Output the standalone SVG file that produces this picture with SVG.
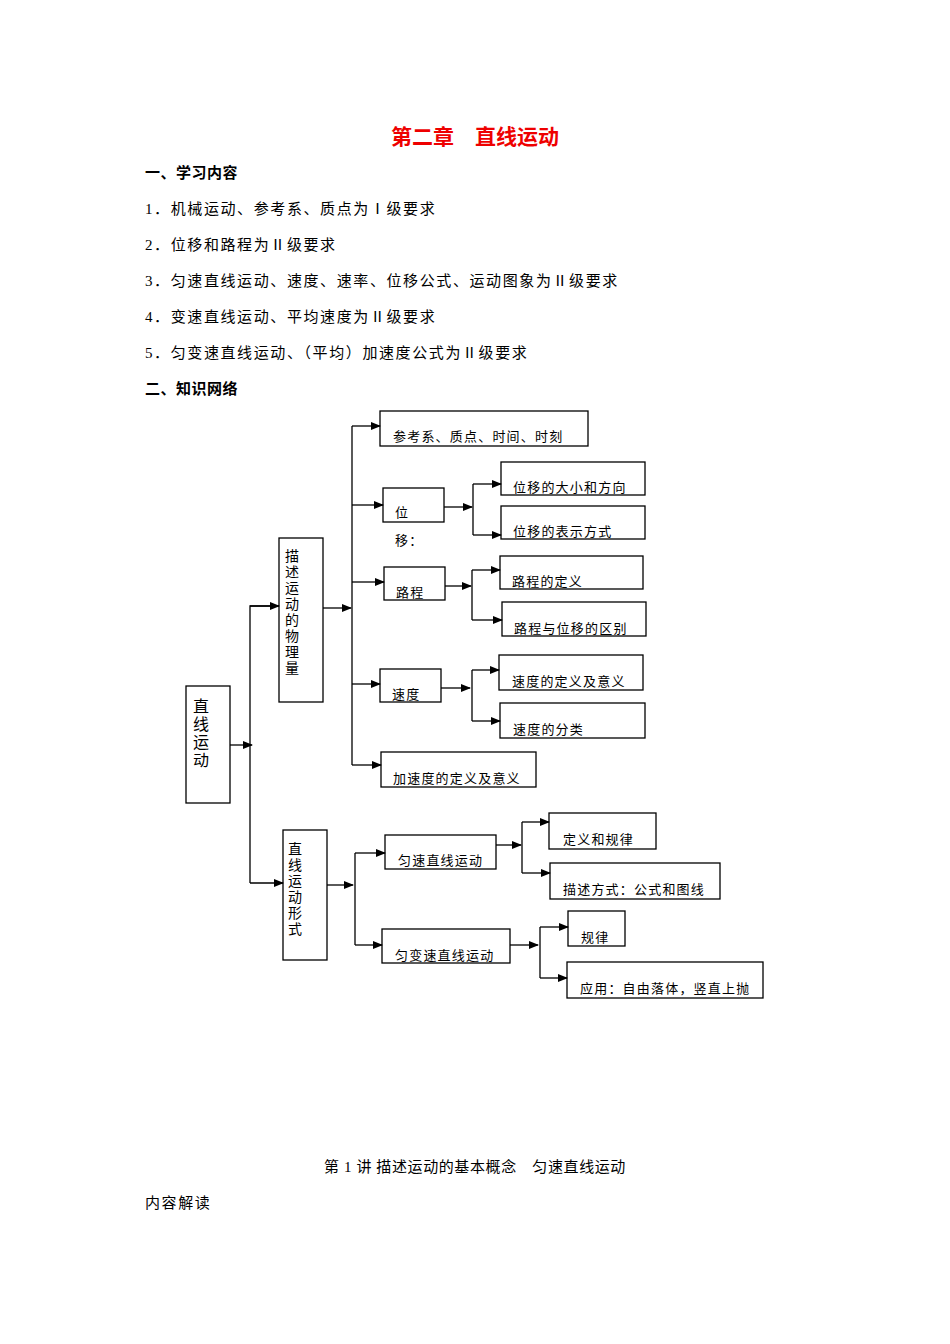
<svg xmlns="http://www.w3.org/2000/svg" width="950" height="1344" viewBox="0 0 950 1344">
<defs><marker id="a" markerWidth="10" markerHeight="8" refX="9" refY="4" orient="auto" markerUnits="userSpaceOnUse"><path d="M0,0L10,4L0,8z" fill="#000"/></marker></defs>
<style>
text{font-family:"Liberation Serif","Noto Sans CJK SC",serif;fill:#000}
.t{font-size:15px;letter-spacing:1.6px}.h{font-size:15px;font-weight:bold;letter-spacing:0.5px}.b{font-size:13px;letter-spacing:1.2px}.v{font-size:14px}
rect{fill:#fff;stroke:#000;stroke-width:1.3}
.c line,.c path{stroke:#000;stroke-width:1.3;fill:none}
</style>
<rect x="0" y="0" width="950" height="1344" style="stroke:none"/>
<text x="475" y="144" text-anchor="middle" style="font-size:21px;font-weight:bold;fill:#e00">第二章　直线运动</text>
<text class="h" x="145" y="178">一、学习内容</text>
<text class="t" x="145" y="214">1．机械运动、参考系、质点为Ⅰ级要求</text>
<text class="t" x="145" y="250">2．位移和路程为Ⅱ级要求</text>
<text class="t" x="145" y="286">3．匀速直线运动、速度、速率、位移公式、运动图象为Ⅱ级要求</text>
<text class="t" x="145" y="322">4．变速直线运动、平均速度为Ⅱ级要求</text>
<text class="t" x="145" y="358">5．匀变速直线运动、（平均）加速度公式为Ⅱ级要求</text>
<text class="h" x="145" y="394">二、知识网络</text>
<g id="n1"><rect x="186" y="686" width="44" height="117"/><text x="193" y="712" style="font-size:16px">直</text><text x="193" y="730" style="font-size:16px">线</text><text x="193" y="748" style="font-size:16px">运</text><text x="193" y="766" style="font-size:16px">动</text></g>
<g id="n2"><rect x="279" y="538" width="44" height="164"/><text class="v" x="285" y="561">描</text><text class="v" x="285" y="577">述</text><text class="v" x="285" y="593">运</text><text class="v" x="285" y="609">动</text><text class="v" x="285" y="625">的</text><text class="v" x="285" y="641">物</text><text class="v" x="285" y="657">理</text><text class="v" x="285" y="673">量</text></g>
<g id="n3"><rect x="380" y="411" width="208" height="35"/><text class="b" x="393" y="441">参考系、质点、时间、时刻</text></g>
<g id="n4"><rect x="383" y="488" width="61" height="34"/><text class="b" x="395" y="517">位</text><text class="b" x="395" y="545">移：</text></g>
<g id="n5"><rect x="501" y="462" width="144" height="33"/><text class="b" x="513" y="492">位移的大小和方向</text></g>
<g id="n6"><rect x="501" y="506" width="144" height="33"/><text class="b" x="513" y="536">位移的表示方式</text></g>
<g id="n7"><rect x="384" y="567" width="61" height="33"/><text class="b" x="396" y="597">路程</text></g>
<g id="n8"><rect x="500" y="556" width="143" height="33"/><text class="b" x="512" y="586">路程的定义</text></g>
<g id="n9"><rect x="502" y="602" width="144" height="34"/><text class="b" x="514" y="633">路程与位移的区别</text></g>
<g id="n10"><rect x="380" y="669" width="61" height="33"/><text class="b" x="392" y="699">速度</text></g>
<g id="n11"><rect x="499" y="655" width="144" height="35"/><text class="b" x="512" y="686">速度的定义及意义</text></g>
<g id="n12"><rect x="500" y="703" width="145" height="35"/><text class="b" x="513" y="734">速度的分类</text></g>
<g id="n13"><rect x="381" y="752" width="155" height="35"/><text class="b" x="393" y="783">加速度的定义及意义</text></g>
<g id="n14"><rect x="283" y="830" width="44" height="130"/><text class="v" x="288" y="854">直</text><text class="v" x="288" y="870">线</text><text class="v" x="288" y="886">运</text><text class="v" x="288" y="902">动</text><text class="v" x="288" y="918">形</text><text class="v" x="288" y="934">式</text></g>
<g id="n15"><rect x="385" y="835" width="111" height="34"/><text class="b" x="398" y="865">匀速直线运动</text></g>
<g id="n16"><rect x="549" y="813" width="107" height="36"/><text class="b" x="563" y="844">定义和规律</text></g>
<g id="n17"><rect x="550" y="863" width="170" height="36"/><text class="b" x="563" y="894">描述方式：公式和图线</text></g>
<g id="n18"><rect x="382" y="929" width="128" height="34"/><text class="b" x="395" y="960">匀变速直线运动</text></g>
<g id="n19"><rect x="568" y="911" width="57" height="35"/><text class="b" x="581" y="942">规律</text></g>
<g id="n20"><rect x="567" y="962" width="196" height="36"/><text class="b" x="580" y="993">应用：自由落体，竖直上抛</text></g>
<g class="c" id="connectors">
<line x1="230" y1="745" x2="252" y2="745" marker-end="url(#a)"/>
<path d="M279,606H250V883"/><line x1="250" y1="606" x2="279" y2="606" marker-end="url(#a)"/><line x1="250" y1="883" x2="283" y2="883" marker-end="url(#a)"/>
<line x1="323" y1="608" x2="351" y2="608" marker-end="url(#a)"/>
<path d="M352,426V765"/>
<line x1="352" y1="426" x2="380" y2="426" marker-end="url(#a)"/>
<line x1="352" y1="505" x2="383" y2="505" marker-end="url(#a)"/>
<line x1="352" y1="582" x2="384" y2="582" marker-end="url(#a)"/>
<line x1="352" y1="684" x2="380" y2="684" marker-end="url(#a)"/>
<line x1="352" y1="765" x2="381" y2="765" marker-end="url(#a)"/>
<line x1="444" y1="507" x2="472" y2="507" marker-end="url(#a)"/>
<path d="M473,484V535"/><line x1="473" y1="484" x2="501" y2="484" marker-end="url(#a)"/><line x1="473" y1="535" x2="501" y2="535" marker-end="url(#a)"/>
<line x1="445" y1="586" x2="471" y2="586" marker-end="url(#a)"/>
<path d="M472,570V620"/><line x1="472" y1="570" x2="500" y2="570" marker-end="url(#a)"/><line x1="472" y1="620" x2="502" y2="620" marker-end="url(#a)"/>
<line x1="441" y1="688" x2="470" y2="688" marker-end="url(#a)"/>
<path d="M472,670V721"/><line x1="472" y1="670" x2="499" y2="670" marker-end="url(#a)"/><line x1="472" y1="721" x2="500" y2="721" marker-end="url(#a)"/>
<line x1="327" y1="885" x2="353" y2="885" marker-end="url(#a)"/>
<path d="M355,853V945"/><line x1="355" y1="853" x2="385" y2="853" marker-end="url(#a)"/><line x1="355" y1="945" x2="382" y2="945" marker-end="url(#a)"/>
<line x1="496" y1="845" x2="521" y2="845" marker-end="url(#a)"/>
<path d="M522,822V873"/><line x1="522" y1="822" x2="549" y2="822" marker-end="url(#a)"/><line x1="522" y1="873" x2="550" y2="873" marker-end="url(#a)"/>
<line x1="510" y1="945" x2="538" y2="945" marker-end="url(#a)"/>
<path d="M540,927V978"/><line x1="540" y1="927" x2="568" y2="927" marker-end="url(#a)"/><line x1="540" y1="978" x2="567" y2="978" marker-end="url(#a)"/>
</g>
<text class="t" x="475" y="1172" text-anchor="middle" style="letter-spacing:0.6px">第 1 讲  描述运动的基本概念　匀速直线运动</text>
<text class="t" x="145" y="1208">内容解读</text>
</svg>
